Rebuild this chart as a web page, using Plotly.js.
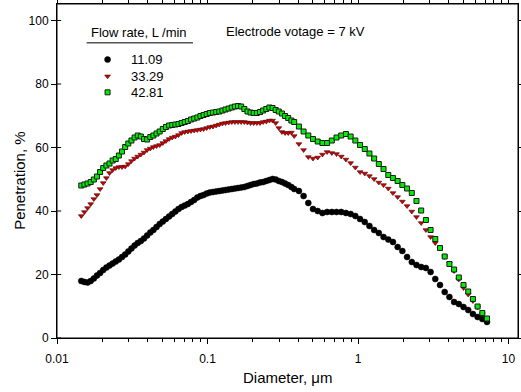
<!DOCTYPE html>
<html>
<head>
<meta charset="utf-8">
<script src="https://cdn.plot.ly/plotly-3.0.1.min.js"></script>
<style>
  html, body { margin: 0; padding: 0; background: #ffffff; }
  #chart { width: 521px; height: 392px; }
</style>
</head>
<body>
<div id="chart"></div>
<script>
// Particle diameter, µm
const diameter = [
  0.01450, 0.01521, 0.01596, 0.01674, 0.01757, 0.01843, 0.01933, 0.02028, 0.02128, 0.02233,
  0.02342, 0.02457, 0.02578, 0.02705, 0.02838, 0.02977, 0.03124, 0.03277, 0.03438, 0.03607,
  0.03785, 0.03971, 0.04166, 0.04370, 0.04585, 0.04811, 0.05047, 0.05295, 0.05555, 0.05828,
  0.06115, 0.06415, 0.06730, 0.07061, 0.07408, 0.07772, 0.08154, 0.08555, 0.08975, 0.09416,
  0.09879, 0.1036, 0.1087, 0.1141, 0.1197, 0.1256, 0.1317, 0.1382, 0.1450, 0.1521,
  0.1596, 0.1674, 0.1757, 0.1843, 0.1933, 0.2028, 0.2128, 0.2233, 0.2342, 0.2457,
  0.2578, 0.2705, 0.2838, 0.2977, 0.3124, 0.3277, 0.3438, 0.3607,
  0.3767, 0.4049, 0.4350, 0.4675, 0.5024, 0.5398, 0.5801, 0.6233, 0.6699, 0.7198,
  0.7735, 0.8312, 0.8933, 0.9600, 1.032, 1.109, 1.191, 1.280, 1.375, 1.478,
  1.589, 1.707, 1.834, 1.971, 2.118, 2.277, 2.446, 2.629, 2.825, 3.036,
  3.262, 3.506, 3.767, 4.049, 4.350, 4.675, 5.024, 5.398, 5.801, 6.233,
  6.699, 7.198
];

// Penetration, % — flow rate 11.09 L/min
const pen1109 = [
  17.95, 17.64, 17.48, 17.95, 18.74, 19.69, 20.47, 21.42, 22.20, 22.83,
  23.46, 24.09, 24.72, 25.51, 26.30, 27.24, 28.19, 29.13, 29.92, 30.55,
  31.34, 32.28, 33.23, 34.02, 34.96, 35.91, 36.69, 37.48, 38.27, 39.06,
  39.84, 40.63, 41.26, 41.73, 42.20, 42.83, 43.46, 44.25, 44.72, 45.04,
  45.51, 45.83, 45.98, 46.14, 46.30, 46.46, 46.61, 46.77, 46.93, 47.09,
  47.24, 47.40, 47.56, 47.87, 48.19, 48.50, 48.66, 48.98, 49.13, 49.45,
  49.76, 50.08, 49.92, 49.45, 49.13, 48.66, 48.19, 47.56,
  46.93, 46.30, 44.72, 42.52, 40.63, 40.00, 39.37, 39.69, 39.69, 39.69,
  39.69, 39.37, 39.06, 38.43, 37.48, 36.54, 35.28, 34.02, 33.07, 31.81,
  31.02, 30.24, 28.66, 27.40, 25.51, 23.94, 22.99, 22.36, 22.05, 20.79,
  18.58, 16.69, 14.49, 12.91, 11.34, 10.71, 9.76, 8.82, 7.56, 6.61,
  5.98, 5.04
];

// Penetration, % — flow rate 33.29 L/min
const pen3329 = [
  38.43, 39.69, 40.94, 42.20, 43.78, 45.04, 46.93, 48.82, 50.39, 51.97,
  52.91, 53.54, 53.86, 53.86, 54.02, 54.80, 55.75, 56.54, 57.17, 57.80,
  58.43, 59.21, 59.69, 60.16, 60.47, 60.79, 61.42, 62.05, 62.68, 63.15,
  63.46, 63.94, 64.57, 64.88, 65.04, 65.20, 65.35, 65.51, 65.67, 65.83,
  66.14, 66.46, 66.61, 66.93, 67.24, 67.56, 67.72, 67.87, 68.03, 68.03,
  68.03, 68.03, 68.03, 67.87, 67.72, 67.72, 67.72, 67.72, 68.03, 68.19,
  68.50, 68.50, 67.72, 66.14, 64.88, 64.57, 64.57, 64.72,
  63.62, 61.10, 59.21, 57.01, 56.54, 56.85, 57.80, 58.58, 58.27, 57.95,
  57.17, 56.22, 55.12, 53.70, 52.28, 51.81, 51.02, 50.08, 48.98, 48.19,
  47.09, 45.67, 44.41, 42.99, 41.57, 39.84, 38.11, 36.22, 34.02, 31.81,
  29.92, 28.19, 25.51, 23.46, 21.10, 18.43, 15.75, 13.70, 11.65, 9.61,
  7.56, 5.83
];

// Penetration, % — flow rate 42.81 L/min
const pen4281 = [
  48.03, 48.35, 48.66, 49.13, 49.92, 50.87, 52.28, 53.54, 54.33, 54.96,
  55.91, 56.38, 57.48, 58.74, 60.16, 61.26, 62.20, 63.15, 63.78, 63.46,
  62.68, 62.52, 63.31, 63.78, 64.41, 65.04, 65.83, 66.46, 66.93, 67.09,
  67.24, 67.40, 67.72, 68.03, 68.35, 68.82, 69.13, 69.45, 69.92, 70.24,
  70.55, 70.87, 71.02, 71.18, 71.34, 71.65, 71.97, 72.28, 72.60, 72.91,
  73.07, 72.91, 72.13, 71.34, 71.02, 70.87, 70.87, 71.18, 71.65, 72.13,
  72.60, 72.44, 71.81, 71.34, 70.71, 69.92, 69.29, 68.50,
  68.03, 66.61, 65.04, 63.78, 62.68, 61.89, 61.42, 61.42, 62.20, 63.15,
  63.78, 64.25, 63.46, 62.20, 60.79, 59.53, 58.11, 56.54, 54.80, 53.23,
  51.34, 50.39, 49.45, 48.19, 47.09, 45.67, 43.15, 40.16, 37.17, 34.02,
  31.18, 28.35, 25.67, 23.31, 21.57, 19.06, 16.69, 14.65, 12.28, 9.92,
  7.87, 6.14
];

const seriesNames = ['11.09', '33.29', '42.81'];
const yTickVals = [0, 20, 40, 60, 80, 100];
const legendTitle = 'Flow rate, L /min';
const noteText = 'Electrode votage = 7 kV';
const xTitle = 'Diameter, \u03bcm';
const yTitle = 'Penetration, %';

const FONT = 'Liberation Sans, Arial, Helvetica, sans-serif';
const X_RANGE = [-2, 1.0631];
const Y_RANGE = [0, 105.2];

const styles = [
  {symbol: 'circle', size: 6, color: '#000000', line: {color: '#000000', width: 0.5}},
  {symbol: 'triangle-down', size: 5, color: '#d40000', line: {color: '#3a0000', width: 0.6}},
  {symbol: 'square', size: 5, color: '#00ee00', line: {color: '#1a1a1a', width: 1}}
];
const seriesY = [pen1109, pen3329, pen4281];

const traces = seriesY.map((ys, i) => ({
  type: 'scatter', mode: 'markers', x: diameter, y: ys, name: seriesNames[i],
  marker: styles[i], hoverinfo: 'x+y', showlegend: false
}));

// legend key symbols: placed at fractions of the plot box, converted through the axis ranges
const legFracX = 0.1097;
const legFracY = [0.8336, 0.7835, 0.7355];
const fracToX = f => Math.pow(10, X_RANGE[0] + f * (X_RANGE[1] - X_RANGE[0]));
const fracToY = f => Y_RANGE[0] + f * (Y_RANGE[1] - Y_RANGE[0]);
styles.forEach((s, i) => {
  traces.push({
    type: 'scatter', mode: 'markers', x: [fracToX(legFracX)], y: [fracToY(legFracY[i])],
    marker: s, showlegend: false, hoverinfo: 'skip'
  });
});

const annFont = {family: FONT, size: 13, color: '#000000'};
const annotations = [
  {xref: 'paper', yref: 'paper', x: 0.1775, y: 0.916, text: legendTitle, showarrow: false,
   xanchor: 'center', yanchor: 'middle', font: annFont},
  {xref: 'paper', yref: 'paper', x: 0.5173, y: 0.9175, text: noteText, showarrow: false,
   xanchor: 'center', yanchor: 'middle', font: annFont},
  {xref: 'paper', yref: 'paper', x: -0.0801, y: 0.4708, text: yTitle, showarrow: false,
   textangle: -90, xanchor: 'center', yanchor: 'middle', font: {family: FONT, size: 15, color: '#000'}},
  {xref: 'paper', yref: 'paper', x: 0.5, y: -0.117, text: xTitle, showarrow: false,
   xanchor: 'center', yanchor: 'middle', font: {family: FONT, size: 15, color: '#000'}}
];
seriesNames.forEach((n, i) => {
  annotations.push({xref: 'paper', yref: 'paper', x: 0.1565, y: legFracY[i], text: n, showarrow: false,
    xanchor: 'left', yanchor: 'middle', font: annFont});
});

const shapes = [
  {type: 'rect', xref: 'paper', yref: 'paper', x0: 0, x1: 1, y0: 0, y1: 1,
   line: {color: '#000000', width: 1}, fillcolor: 'rgba(0,0,0,0)', layer: 'above'},
  {type: 'line', xref: 'paper', yref: 'paper', x0: 0.0643, x1: 0.295, y0: 0.8837, y1: 0.8837,
   line: {color: '#000', width: 1}}
];
yTickVals.forEach(v => {
  shapes.push({type: 'line', xref: 'paper', yref: 'y', x0: 0, x1: 0.009, y0: v, y1: v,
    line: {color: '#000', width: 1}});
});

const layout = {
  width: 521, height: 392,
  margin: {l: 57, r: 3, t: 4, b: 54},
  paper_bgcolor: '#ffffff', plot_bgcolor: '#ffffff',
  font: {family: FONT, size: 12, color: '#000000'},
  showlegend: false,
  xaxis: {
    type: 'log', range: X_RANGE, tick0: 0, dtick: 1,
    showline: true, mirror: 'all', linecolor: '#000', linewidth: 1,
    ticks: 'outside', ticklen: 5, tickwidth: 1, tickcolor: '#000',
    ticklabelstandoff: 5,
    minor: {dtick: 'D1', ticks: 'outside', ticklen: 3, tickwidth: 1, tickcolor: '#000', showgrid: false},
    showgrid: false, zeroline: false,
    tickfont: {family: FONT, size: 12, color: '#000'}
  },
  yaxis: {
    range: Y_RANGE, tickvals: yTickVals, ticktext: yTickVals.map(String),
    showline: true, mirror: 'all', linecolor: '#000', linewidth: 1,
    ticks: 'outside', ticklen: 5, tickwidth: 1, tickcolor: '#000',
    showgrid: false, zeroline: false,
    tickfont: {family: FONT, size: 12, color: '#000'}
  },
  shapes: shapes,
  annotations: annotations
};

Plotly.newPlot('chart', traces, layout, {staticPlot: true, displayModeBar: false});
</script>
</body>
</html>
